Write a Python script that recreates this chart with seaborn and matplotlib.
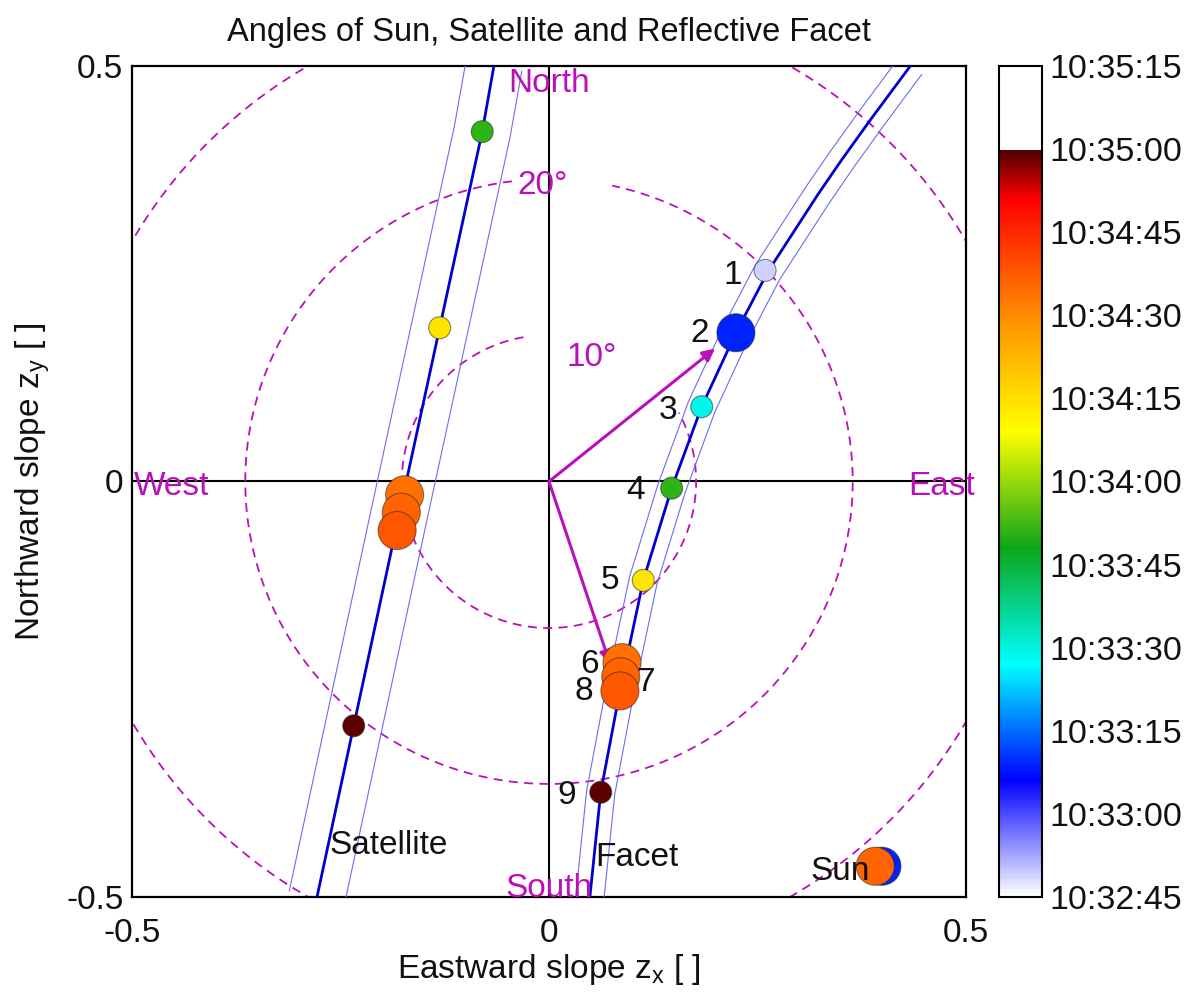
import numpy as np
import matplotlib
matplotlib.use("Agg")
import matplotlib.pyplot as plt
from matplotlib.colors import LinearSegmentedColormap, Normalize
from matplotlib.cm import ScalarMappable
import seaborn as sns

# ---------------------------------------------------------------- data
# sample times in seconds after 10:32:45
sample_seconds = [4, 24, 44, 66, 89, 109, 111, 113, 134]
sample_glint = [False, True, False, False, False, True, True, True, False]
sample_numbers = ["1", "2", "3", "4", "5", "6", "7", "8", "9"]

# facet slope at each sample
facet_x = [0.259, 0.224, 0.183, 0.147, 0.113, 0.0875, 0.086, 0.085, 0.062]
facet_y = [0.254, 0.179, 0.090, -0.008, -0.119, -0.218, -0.235, -0.252, -0.374]

# satellite direction (samples 4..9; earlier ones lie above the frame)
sat_seconds = [66, 89, 109, 111, 113, 134]
sat_glint = [False, False, True, True, True, False]
sat_x = [-0.080, -0.131, -0.173, -0.177, -0.182, -0.234]
sat_y = [0.421, 0.185, -0.016, -0.037, -0.059, -0.294]

# sun direction
sun_seconds = [24, 111]
sun_glint = [True, True]
sun_x = [0.399, 0.391]
sun_y = [-0.463, -0.463]

# tracks
sat_track_x = [-0.278, -0.234, -0.179, -0.131, -0.080, -0.066]
sat_track_y = [-0.5, -0.294, -0.037, 0.185, 0.421, 0.5]
facet_track_x = [0.049, 0.062, 0.085, 0.113, 0.147, 0.183, 0.224, 0.262,
                 0.322, 0.350, 0.385, 0.433]
facet_track_y = [-0.5, -0.374, -0.252, -0.119, -0.008, 0.090, 0.179, 0.252,
                 0.345, 0.386, 0.435, 0.5]

# facet normal vectors drawn as arrows from the origin
arrow_x = [0.199, 0.073]
arrow_y = [0.160, -0.219]

# zenith-angle rings (degrees)
ring_angles = [10, 20, 30]

cbar_seconds = [0, 15, 30, 45, 60, 75, 90, 105, 120, 135, 150]
cbar_labels = ["10:32:45", "10:33:00", "10:33:15", "10:33:30", "10:33:45",
               "10:34:00", "10:34:15", "10:34:30", "10:34:45", "10:35:00",
               "10:35:15"]

# ---------------------------------------------------------------- style
sns.set_theme(style="white")
plt.rcParams["font.family"] = ["Liberation Sans", "DejaVu Sans"]
plt.rcParams["mathtext.default"] = "regular"

MAG = "#BA10BA"
FS = 24

time_cmap = LinearSegmentedColormap.from_list(
    "time",
    [(0.0, (1, 1, 1)), (0.14, (0, 0, 1)), (0.28, (0, 1, 1)),
     (0.42, (0.05, 0.65, 0.1)), (0.56, (1, 1, 0)), (0.70, (1, 0.55, 0)),
     (0.84, (1, 0, 0)), (0.90, (0.3, 0, 0)), (0.90, (1, 1, 1)),
     (1.0, (1, 1, 1))], N=512)
time_norm = Normalize(vmin=0, vmax=150)

fig = plt.figure(figsize=(11.87, 9.94), dpi=100)
ax = fig.add_axes([0.111, 0.0976, 0.703, 0.836])
cax = fig.add_axes([0.842, 0.0976, 0.036, 0.836])

ax.set_xlim(-0.5, 0.5)
ax.set_ylim(-0.5, 0.5)

# rings of constant zenith angle, with gaps for their labels
ring_spans = {10: (100, 388), 20: (97, 438), 30: (0, 360)}
for a in ring_angles:
    r = np.tan(np.radians(a))
    t0, t1 = ring_spans[a]
    th = np.radians(np.linspace(t0, t1, 400))
    ax.plot(r * np.cos(th), r * np.sin(th), color=MAG, lw=1.3,
            ls=(0, (5, 3.5)), zorder=2)

ax.axhline(0, color="black", lw=1.5, zorder=1)
ax.axvline(0, color="black", lw=1.5, zorder=1)


def offset_curve(xs, ys, d):
    xs = np.asarray(xs, float)
    ys = np.asarray(ys, float)
    dx = np.gradient(xs)
    dy = np.gradient(ys)
    n = np.hypot(dx, dy)
    return xs + d * dy / n, ys - d * dx / n


for tx, ty, w in [(sat_track_x, sat_track_y, 0.034),
                  (facet_track_x, facet_track_y, 0.017)]:
    ax.plot(tx, ty, color="#0000D0", lw=2.0, zorder=3)
    for s in (-1, 1):
        ox, oy = offset_curve(tx, ty, s * w)
        ax.plot(ox, oy, color="#6C6CF0", lw=0.8, zorder=3)

for x, y in zip(arrow_x, arrow_y):
    ax.annotate("", xy=(x, y), xytext=(0, 0),
                arrowprops=dict(arrowstyle="-|>", color=MAG, lw=2.2,
                                mutation_scale=18, shrinkA=0, shrinkB=0),
                zorder=4)

size_map = {False: 250, True: 750}
for xs, ys, ts, gs in [(sun_x, sun_y, sun_seconds, sun_glint),
                       (sat_x, sat_y, sat_seconds, sat_glint),
                       (facet_x, facet_y, sample_seconds, sample_glint)]:
    sns.scatterplot(x=xs, y=ys, hue=ts, palette=time_cmap, hue_norm=time_norm,
                    size=gs, sizes=size_map, legend=False, ax=ax,
                    edgecolor=(0.15, 0.15, 0.15, 0.55), linewidth=0.8,
                    zorder=5)

# sample numbers beside the facet points (pixel offsets)
num_offsets = [(-32, -5), (-36, -1), (-34, -4), (-36, -2), (-33, 0),
               (-32, -2), (25, -6), (-36, -1), (-34, -3)]
for lab, x, y, off in zip(sample_numbers, facet_x, facet_y, num_offsets):
    ax.annotate(lab, xy=(x, y), xytext=off, textcoords="offset pixels",
                ha="center", va="center", fontsize=FS, color="#111111",
                zorder=6)

ax.text(0.0, 0.479, "North", color=MAG, fontsize=FS, ha="center", va="center", zorder=6)
ax.text(0.0, -0.49, "South", color=MAG, fontsize=FS, ha="center", va="center", zorder=6)
ax.text(-0.497, -0.006, "West", color=MAG, fontsize=FS, ha="left", va="center", zorder=6)
ax.text(0.471, -0.006, "East", color=MAG, fontsize=FS, ha="center", va="center",
        zorder=6, clip_on=False)
ax.text(-0.038, 0.356, "20°", color=MAG, fontsize=FS, ha="left", va="center", zorder=6)
ax.text(0.021, 0.149, "10°", color=MAG, fontsize=FS, ha="left", va="center", zorder=6)
ax.text(-0.263, -0.438, "Satellite", color="#111111", fontsize=FS, ha="left",
        va="center", zorder=6)
ax.text(0.056, -0.452, "Facet", color="#111111", fontsize=FS, ha="left",
        va="center", zorder=6)
ax.text(0.313, -0.469, "Sun", color="#111111", fontsize=FS, ha="left",
        va="center", zorder=6)

ax.set_xticks([-0.5, 0, 0.5])
ax.set_yticks([-0.5, 0, 0.5])
ax.set_xticklabels(["-0.5", "0", "0.5"])
ax.set_yticklabels(["-0.5", "0", "0.5"])
ax.tick_params(axis="x", length=0, pad=15, labelsize=FS, colors="#111111")
ax.tick_params(axis="y", length=0, pad=6, labelsize=FS, colors="#111111")
ax.set_xlabel("Eastward slope z$_x$ [ ]", fontsize=FS, labelpad=2, color="#111111")
ax.set_ylabel("Northward slope z$_y$ [ ]", fontsize=FS, labelpad=10, color="#111111")
ax.set_title("Angles of Sun, Satellite and Reflective Facet", fontsize=23.5,
             pad=18, color="#111111")
for sp in ax.spines.values():
    sp.set_color("black")
    sp.set_linewidth(1.6)
    sp.set_visible(True)

cb = fig.colorbar(ScalarMappable(norm=time_norm, cmap=time_cmap), cax=cax,
                  ticks=cbar_seconds)
cb.set_ticklabels(cbar_labels)
cb.outline.set_linewidth(1.5)
cb.outline.set_edgecolor("black")
cax.yaxis.set_ticks_position("both")
cax.tick_params(axis="y", direction="in", length=6, width=1.2, labelsize=24.5,
                colors="black", labelcolor="#111111", labelright=True,
                labelleft=False, pad=5)

fig.savefig("out.png", dpi=100)
